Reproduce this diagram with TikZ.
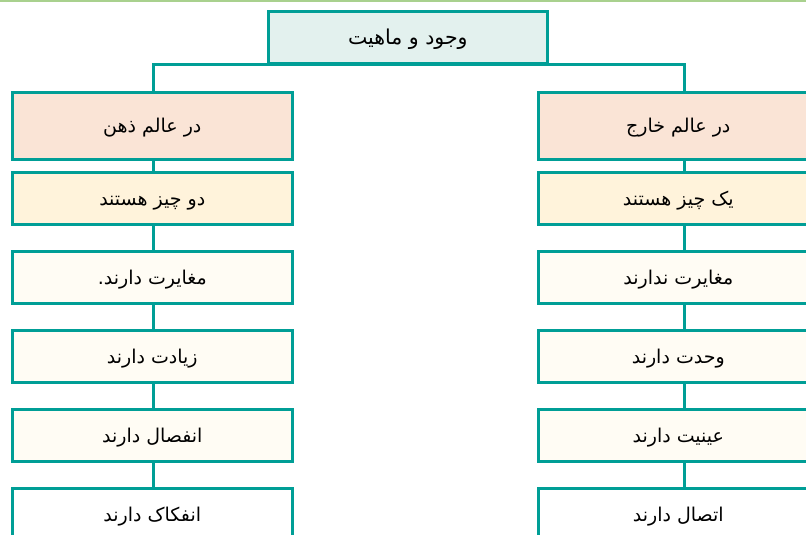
\documentclass[tikz,border=0pt]{standalone}
\usepackage{fontspec}
\setmainfont{DejaVu Sans}
\newfontfamily\fa[Script=Arabic]{DejaVu Sans}
\TeXXeTstate=1
\definecolor{teal1}{HTML}{009E96}
\definecolor{band}{HTML}{A9D18E}
\definecolor{topfill}{HTML}{E3F1EE}
\definecolor{peach}{HTML}{FAE4D6}
\definecolor{yel}{HTML}{FFF3DB}
\definecolor{cream}{HTML}{FFFCF4}
\tikzset{
  box/.style={draw=teal1, line width=2.6pt, rectangle, anchor=north west,
    minimum width=280pt, minimum height=52pt, inner sep=0pt,
    text height=17pt, text depth=3pt,
    font=\fa\fontsize{19}{22}\selectfont, text=black},
  conn/.style={draw=teal1, line width=2.6pt}
}
\newcommand{\fatext}[1]{\beginR #1\endR}
\begin{document}
\begin{tikzpicture}[x=1pt,y=-1pt]
\clip (0,0) rectangle (806,535);
\fill[white] (0,0) rectangle (806,535);
\fill[band] (0,0) rectangle (806,2.5);
% top
\node[box, fill=topfill, minimum width=279pt, minimum height=52pt,
  font=\fa\fontsize{20.5}{24}\selectfont] (top) at (267,10) {\fatext{وجود و ماهیت}};
% left column
\node[box, fill=peach, minimum height=67pt] (L1) at (11,91) {\fatext{در عالم ذهن}};
\node[box, fill=yel] (L2) at (11,171) {\fatext{دو چیز هستند}};
\node[box, fill=cream] (L3) at (11,250) {\fatext{مغایرت دارند.}};
\node[box, fill=cream] (L4) at (11,329) {\fatext{زیادت دارند}};
\node[box, fill=cream] (L5) at (11,408) {\fatext{انفصال دارند}};
\node[box, fill=white] (L6) at (11,487) {\fatext{انفکاک دارند}};
% right column
\node[box, fill=peach, minimum height=67pt] (R1) at (537,91) {\fatext{در عالم خارج}};
\node[box, fill=yel] (R2) at (537,171) {\fatext{یک چیز هستند}};
\node[box, fill=cream] (R3) at (537,250) {\fatext{مغایرت ندارند}};
\node[box, fill=cream] (R4) at (537,329) {\fatext{وحدت دارند}};
\node[box, fill=cream] (R5) at (537,408) {\fatext{عینیت دارند}};
\node[box, fill=white] (R6) at (537,487) {\fatext{اتصال دارند}};
% connectors
\draw[conn] ([xshift=1pt]L1.north) |- (top.south);
\draw[conn] ([xshift=6pt]R1.north) |- (top.south);
\foreach \a/\b in {1/2,2/3,3/4,4/5,5/6}{
  \draw[conn] ([xshift=1pt]L\a.south) -- ([xshift=1pt]L\b.north);
  \draw[conn] ([xshift=6pt]R\a.south) -- ([xshift=6pt]R\b.north);
}
\end{tikzpicture}
\end{document}
